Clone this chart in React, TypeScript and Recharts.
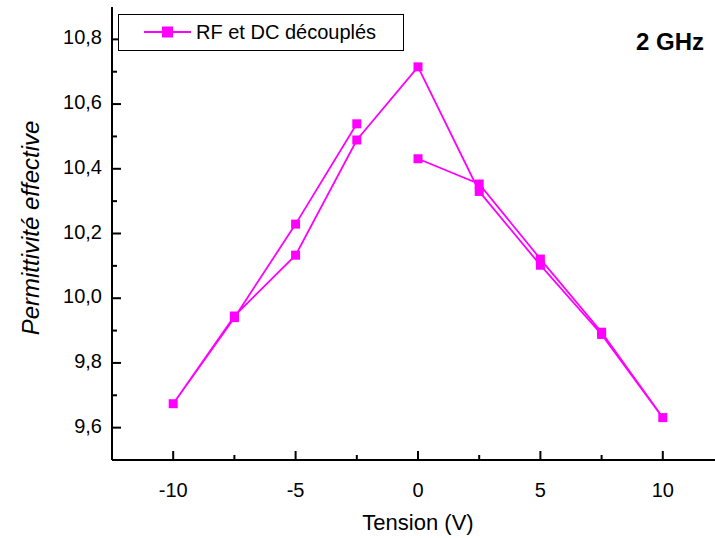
import React from "react";
import { LineChart, Line, XAxis, YAxis } from "recharts";

const tension = [0, 2.5, 5, 7.5, 10, 7.5, 5, 2.5, 0, -2.5, -5, -7.5, -10, -7.5, -5, -2.5];
const permittivity = [
  10.431, 10.353, 10.121, 9.895, 9.631, 9.888, 10.102, 10.33, 10.715, 10.489, 10.133,
  9.945, 9.674, 9.94, 10.229, 10.539,
];
const xMajor = [-10, -5, 0, 5, 10];
const xMinor = [-7.5, -2.5, 2.5, 7.5];
const yMajor = [9.6, 9.8, 10.0, 10.2, 10.4, 10.6, 10.8];
const yMinor = [9.7, 9.9, 10.1, 10.3, 10.5, 10.7];
const seriesName = "RF et DC découplés";

const data = tension.map((v, i) => ({ v, e: permittivity[i] }));

const FONT = "'Liberation Sans', Arial, sans-serif";
const MAGENTA = "#FF00FF";

function BottomTick(props: any) {
  const { x, y, payload } = props;
  const major = xMajor.includes(payload.value);
  return (
    <g>
      <line x1={x} x2={x} y1={y} y2={y - (major ? 9 : 5)} stroke="#000" strokeWidth={2} />
      {major && (
        <text x={x} y={y + 37} textAnchor="middle" fontSize={20} fontFamily={FONT} fill="#000">
          {payload.value}
        </text>
      )}
    </g>
  );
}

function TopTick(props: any) {
  const { x, y } = props;
  return <line x1={x} x2={x} y1={y} y2={y + 8} stroke="#000" strokeWidth={2} />;
}

function LeftTick(props: any) {
  const { x, y, payload } = props;
  const major = yMajor.some((m) => Math.abs(m - payload.value) < 1e-6);
  return (
    <g>
      <line x1={x} x2={x + (major ? 9 : 5)} y1={y} y2={y} stroke="#000" strokeWidth={2} />
      {major && (
        <text x={x - 10} y={y + 5} textAnchor="end" fontSize={20} fontFamily={FONT} fill="#000">
          {payload.value.toFixed(1).replace(".", ",")}
        </text>
      )}
    </g>
  );
}

function SquareDot(props: any) {
  const { cx, cy, index } = props;
  return <rect key={index} x={cx - 4.5} y={cy - 4.5} width={9} height={9} fill={MAGENTA} />;
}

function LegendBox() {
  return (
    <div
      style={{
        position: "absolute",
        left: 118,
        top: 14,
        width: 286,
        height: 37,
        boxSizing: "border-box",
        border: "1.5px solid #000",
        background: "#fff",
      }}
    >
      <svg width={70} height={34} style={{ position: "absolute", left: 20, top: 0 }}>
        <line x1={5} x2={52} y1={17} y2={17} stroke={MAGENTA} strokeWidth={2} />
        <rect x={23} y={11.5} width={11} height={11} fill={MAGENTA} />
      </svg>
      <span
        style={{
          position: "absolute",
          left: 77,
          top: 6,
          fontFamily: FONT,
          fontSize: 20,
          lineHeight: "22px",
          color: "#000",
          whiteSpace: "nowrap",
        }}
      >
        {seriesName}
      </span>
    </div>
  );
}

export default function App() {
  return (
    <div
      style={{
        position: "absolute",
        left: 0,
        top: 0,
        width: 715,
        height: 538,
        overflow: "hidden",
        background: "#fff",
      }}
    >
      <LineChart width={740} height={538} data={data} margin={{ top: 7, right: 16, bottom: 0, left: 0 }}>
        <XAxis
          xAxisId="b"
          dataKey="v"
          type="number"
          domain={[-12.5, 12.5]}
          ticks={[...xMajor, ...xMinor]}
          interval={0}
          height={78}
          tickSize={0}
          tickMargin={0}
          tickLine={false}
          tick={(p: any) => <BottomTick {...p} />}
          axisLine={{ stroke: "#000", strokeWidth: 2 }}
          label={{
            value: "Tension (V)",
            position: "insideBottom",
            offset: 8,
            style: { fontFamily: FONT, fontSize: 22, fill: "#000" },
          }}
        />
        <XAxis
          xAxisId="t"
          orientation="top"
          dataKey="v"
          type="number"
          domain={[-12.5, 12.5]}
          ticks={xMajor}
          interval={0}
          height={0}
          tickSize={0}
          tickMargin={0}
          tickLine={false}
          tick={(p: any) => <TopTick {...p} />}
          axisLine={{ stroke: "#000", strokeWidth: 2 }}
        />
        <YAxis
          type="number"
          domain={[9.5, 10.9]}
          ticks={[...yMajor, ...yMinor]}
          interval={0}
          width={112}
          tickSize={0}
          tickMargin={0}
          tickLine={false}
          tick={(p: any) => <LeftTick {...p} />}
          axisLine={{ stroke: "#000", strokeWidth: 2 }}
          label={{
            content: () => (
              <text
                x={30}
                y={228}
                transform="rotate(-90, 30, 228)"
                textAnchor="middle"
                dominantBaseline="central"
                fontFamily={FONT}
                fontSize={24}
                fontStyle="italic"
                fill="#000"
              >
                Permittivité effective
              </text>
            ),
          }}
        />
        <Line
          xAxisId="b"
          dataKey="e"
          name={seriesName}
          stroke={MAGENTA}
          strokeWidth={1.8}
          dot={(p: any) => <SquareDot {...p} />}
          activeDot={false}
          isAnimationActive={false}
        />
      </LineChart>
      <LegendBox />
      <div
        style={{
          position: "absolute",
          left: 636,
          top: 30,
          fontFamily: FONT,
          fontSize: 24,
          fontWeight: "bold",
          lineHeight: "24px",
          color: "#000",
          whiteSpace: "nowrap",
        }}
      >
        2 GHz
      </div>
    </div>
  );
}
